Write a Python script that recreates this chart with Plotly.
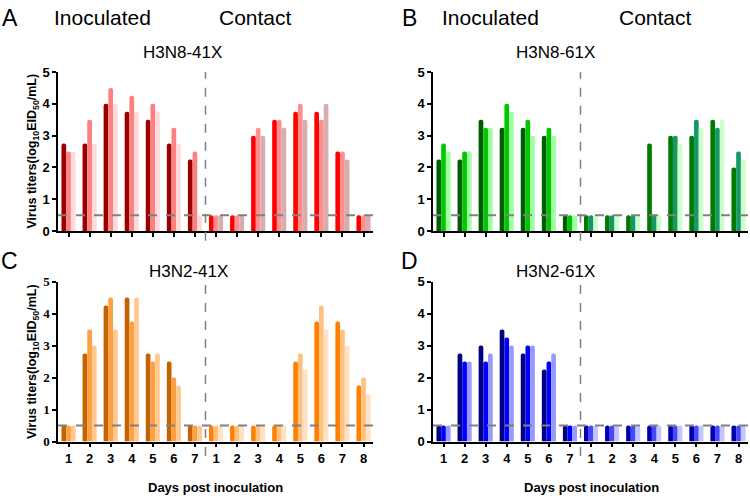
import plotly.graph_objects as go

# ---------------- data ----------------
day_labels = ["1", "2", "3", "4", "5", "6", "7", "1", "2", "3", "4", "5", "6", "7", "8"]
n_inoc = 7

# Panel A: H3N8-41X  (three animals per day; inoculated days 1-7 then contact days 1-8)
a_s1 = [2.75, 2.75, 4.0, 3.75, 3.5, 2.75, 2.25, 0.5, 0.5, 3.0, 3.5, 3.75, 3.75, 2.5, 0.5]
a_s2 = [2.5, 3.5, 4.5, 4.25, 4.0, 3.25, 2.5, 0.5, 0.5, 3.25, 3.5, 4.0, 3.5, 2.5, 0.5]
a_s3 = [2.5, 2.75, 4.0, 3.75, 3.75, 2.75, 0.5, 0.5, 0.5, 3.0, 3.25, 3.5, 4.0, 2.25, 0.5]

# Panel B: H3N8-61X
b_s1 = [2.25, 2.25, 3.5, 3.25, 3.25, 3.0, 0.5, 0.5, 0.5, 0.5, 2.75, 3.0, 3.0, 3.5, 2.0]
b_s2 = [2.75, 2.5, 3.25, 4.0, 3.5, 3.25, 0.5, 0.5, 0.5, 0.5, 0.5, 3.0, 3.5, 3.25, 2.5]
b_s3 = [2.5, 2.5, 3.25, 3.75, 3.0, 3.0, 0.5, 0.5, 0.5, 0.5, 0.5, 2.75, 3.25, 3.5, 2.25]

# Panel C: H3N2-41X
c_s1 = [0.5, 2.75, 4.25, 4.5, 2.75, 2.5, 0.5, 0.5, 0.5, 0.5, 0.5, 2.5, 3.75, 3.75, 1.75]
c_s2 = [0.5, 3.5, 4.5, 3.75, 2.5, 2.0, 0.5, 0.5, 0.5, 0.5, 0.5, 2.75, 4.25, 3.5, 2.0]
c_s3 = [0.5, 3.0, 3.5, 4.5, 2.75, 1.75, 0.5, 0.5, 0.5, 0.5, 0.5, 2.25, 3.5, 3.0, 1.5]

# Panel D: H3N2-61X
d_s1 = [0.5, 2.75, 3.0, 3.5, 2.75, 2.25, 0.5, 0.5, 0.5, 0.5, 0.5, 0.5, 0.5, 0.5, 0.5]
d_s2 = [0.5, 2.5, 2.5, 3.25, 3.0, 2.5, 0.5, 0.5, 0.5, 0.5, 0.5, 0.5, 0.5, 0.5, 0.5]
d_s3 = [0.5, 2.5, 2.75, 3.0, 3.0, 2.75, 0.5, 0.5, 0.5, 0.5, 0.5, 0.5, 0.5, 0.5, 0.5]

panel_titles = ["H3N8-41X", "H3N8-61X", "H3N2-41X", "H3N2-61X"]
panel_letters = ["A", "B", "C", "D"]
detection_limit = 0.5

# colours: (inoculated colours for animal 1..3, contact colours for animal 1..3)
colors = {
    "A": (["#990000", "#FF8080", "#FFDADA"], ["#FF0000", "#FF8F8F", "#D6AEAE"]),
    "B": (["#005C00", "#00C800", "#A0FFA0"], ["#007A00", "#149966", "#CCFFCC"]),
    "C": (["#C46200", "#FFA040", "#FFC890"], ["#FF8000", "#FFC080", "#FFE2C4"]),
    "D": (["#000080", "#0000FF", "#9999FF"], ["#0000B0", "#4848FF", "#C4C4FF"]),
}

series = {
    "A": [a_s1, a_s2, a_s3],
    "B": [b_s1, b_s2, b_s3],
    "C": [c_s1, c_s2, c_s3],
    "D": [d_s1, d_s2, d_s3],
}

# ---------------- layout geometry ----------------
W, H = 750, 502
xr = [-0.5, 14.45]
dom_x = {"A": [58 / W, 373 / W], "B": [433 / W, 748 / W],
         "C": [58 / W, 373 / W], "D": [433 / W, 748 / W]}
dom_y = {"A": [1 - 231 / H, 1 - 67 / H], "B": [1 - 231 / H, 1 - 67 / H],
         "C": [1 - 448 / H, 1 - 283 / H], "D": [1 - 448 / H, 1 - 283 / H]}

fig = go.Figure()
x_pos = list(range(len(day_labels)))

layout = dict(
    width=W, height=H,
    margin=dict(l=0, r=0, t=0, b=0),
    paper_bgcolor="white", plot_bgcolor="white",
    barmode="group", bargap=0.33, bargroupgap=0,
    barcornerradius=2,
    showlegend=False,
    font=dict(family="Liberation Sans, Arial, sans-serif", color="black"),
)

annotations = []
shapes = []

for i, p in enumerate(panel_letters):
    suffix = "" if i == 0 else str(i + 1)
    xa = "x" + suffix
    ya = "y" + suffix
    inoc_cols, cont_cols = colors[p]
    for k, vals in enumerate(series[p]):
        cols = [inoc_cols[k]] * n_inoc + [cont_cols[k]] * (len(vals) - n_inoc)
        fig.add_trace(go.Bar(
            x=x_pos, y=vals, xaxis=xa, yaxis=ya,
            marker=dict(color=cols, line=dict(width=0)),
            offsetgroup=str(k), hoverinfo="skip",
        ))
    bottom = p in ("C", "D")
    layout["xaxis" + suffix] = dict(
        domain=dom_x[p], anchor=ya, range=xr,
        tickmode="array", tickvals=x_pos, ticktext=day_labels,
        showticklabels=bottom,
        ticks="outside", ticklen=4, tickwidth=1.5, tickcolor="black",
        showline=True, linecolor="black", linewidth=1.5,
        showgrid=False, zeroline=False, fixedrange=True,
        tickfont=dict(size=13, family="Liberation Sans, Arial, sans-serif", color="black", weight="bold"),
    )
    ytick_family = "Liberation Serif, Times New Roman, serif" if p == "C" else "Liberation Sans, Arial, sans-serif"
    layout["yaxis" + suffix] = dict(
        domain=dom_y[p], anchor=xa, range=[0, 5],
        tickmode="linear", tick0=0, dtick=1,
        ticks="outside", ticklen=4, tickwidth=1.5, tickcolor="black",
        showline=True, linecolor="black", linewidth=1.5,
        showgrid=False, zeroline=False, fixedrange=True,
        tickfont=dict(size=13, family=ytick_family, color="black", weight="bold"),
    )
    # detection-limit dashed line
    shapes.append(dict(type="line", xref=xa + " domain", yref=ya,
                       x0=0, x1=1, y0=detection_limit, y1=detection_limit,
                       line=dict(color="#808080", width=2, dash="dash"), layer="above"))
    # inoculated/contact divider
    div_frac = (n_inoc - 0.5 - xr[0]) / (xr[1] - xr[0])
    y_lo = -0.06 if not bottom else -0.09
    y_hi = 1.0 if not bottom else 0.98
    shapes.append(dict(type="line", xref=xa + " domain", yref=ya + " domain",
                       x0=div_frac, x1=div_frac, y0=y_lo, y1=y_hi,
                       line=dict(color="#808080", width=1.5, dash="dash"), layer="above"))
    # panel title
    cx = {"A": 182, "B": 555, "C": 188, "D": 555}[p]
    cy = {"A": 47, "B": 47, "C": 273, "D": 273}[p]
    annotations.append(dict(text=panel_titles[i], x=cx / W, y=1 - cy / H,
                            xref="paper", yref="paper", showarrow=False,
                            xanchor="center", yanchor="middle",
                            font=dict(size=17, color="black")))
    # panel letter
    lx = {"A": 10, "B": 409, "C": 9, "D": 409}[p]
    ly = {"A": 11, "B": 11, "C": 262, "D": 262}[p]
    annotations.append(dict(text=p, x=lx / W, y=1 - ly / H,
                            xref="paper", yref="paper", showarrow=False,
                            xanchor="center", yanchor="middle",
                            font=dict(size=23, color="black")))

# Inoculated / Contact headers
for txt, cx in [("Inoculated", 102), ("Contact", 255), ("Inoculated", 491), ("Contact", 655)]:
    annotations.append(dict(text=txt, x=cx / W, y=1 - 11 / H, xref="paper", yref="paper",
                            showarrow=False, xanchor="center", yanchor="middle",
                            font=dict(size=21, color="black")))

# y-axis titles (A and C)
for cyc in [149, 366]:
    annotations.append(dict(text="Virus titers(log<sub>10</sub>EID<sub>50</sub>/mL)",
                            x=33 / W, y=1 - cyc / H, xref="paper", yref="paper",
                            showarrow=False, textangle=-90, xanchor="center", yanchor="middle",
                            font=dict(size=12.5, color="black", weight="bold")))

# x-axis titles (C and D)
for cx in [216, 591]:
    annotations.append(dict(text="Days post inoculation", x=cx / W, y=1 - 495 / H,
                            xref="paper", yref="paper", showarrow=False,
                            xanchor="center", yanchor="middle",
                            font=dict(size=13, color="black", weight="bold")))

layout["annotations"] = annotations
layout["shapes"] = shapes
fig.update_layout(**layout)

fig.write_html("out.html", config={"displayModeBar": False},
               post_script="document.body.style.margin='0';document.body.style.padding='0';")
